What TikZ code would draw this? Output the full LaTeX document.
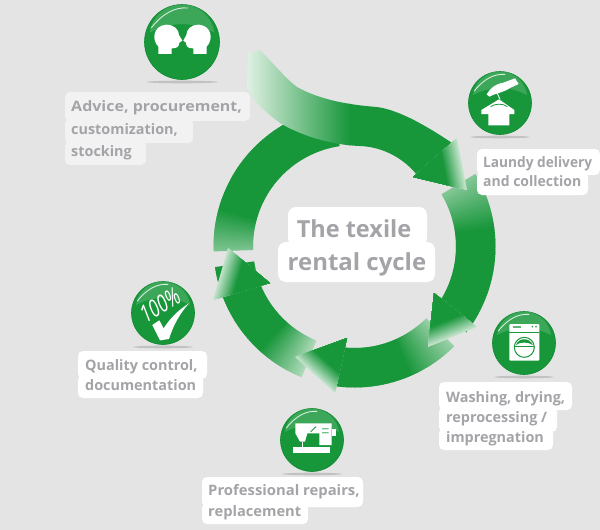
\documentclass[tikz,border=0pt]{standalone}
\usepackage{fontspec}
\setmainfont{Open Sans}
\definecolor{bgc}{HTML}{E5E4E5}
\definecolor{gd}{HTML}{17963A}
\definecolor{gl}{HTML}{DDEFE1}
\definecolor{txt}{HTML}{A4A4A8}
\definecolor{rim}{HTML}{0F8A30}
\newcommand{\ringseg}[4]{% a0 a1 a2 startpct (angles descending)
  \pgfmathtruncatemacro{\ringstop}{#3}%
  \foreach \a in {#1,...,\ringstop}{%
    \pgfmathsetmacro{\p}{min(100,#4+(100-#4)*(#1-\a)/(#1-#2))}%
    \fill[gd!\p!gl] ({354.5+101.5*cos(\a)},{246.5-101.5*sin(\a)}) -- ({354.5+141*cos(\a)},{246.5-141*sin(\a)})
      -- ({354.5+141*cos(\a-1.6)},{246.5-141*sin(\a-1.6)}) -- ({354.5+101.5*cos(\a-1.6)},{246.5-101.5*sin(\a-1.6)}) -- cycle;}%
}
% painter's gradient for a head: barb P, light edge A B
\newcommand{\headtri}[6]{%
  \foreach \i in {0,...,24}{%
    \pgfmathsetmacro{\t}{\i/24*0.36}%
    \pgfmathsetmacro{\p}{12+88*\i/24}%
    \fill[gd!\p!gl] ({#5+\t*(#1-#5)},{#6+\t*(#2-#6)}) -- ({#3+\t*(#1-#3)},{#4+\t*(#2-#4)}) -- (#1,#2) -- cycle;}%
}
\newcommand{\iconbase}[4]{% name cx cy r
  \fill[black!40,opacity=.45] (#2,#3+#4+2.5) ellipse[x radius=#4*0.95,y radius=1.3];
  \node[circle,minimum size=2*#4 pt,inner sep=0pt,fill=gd,draw=rim,line width=.6pt] (#1) at (#2,#3) {};
  \fill[white,opacity=.16] (#2-#4*0.86,#3-#4*0.25) .. controls (#2-#4*0.7,#3-#4*0.95-#4*0.3) and (#2+#4*0.7,#3-#4*0.95-#4*0.3) .. (#2+#4*0.86,#3-#4*0.25)
     .. controls (#2+#4*0.3,#3-#4*0.55) and (#2-#4*0.3,#3-#4*0.55) .. cycle;
  \draw[white,opacity=.8,line width=.9pt,line cap=round] ({#2+#4*0.9*cos(155)},{#3-#4*0.9*sin(155)}) .. controls ({#2+#4*0.8*cos(130)},{#3-#4*1.0*sin(130)}) and ({#2+#4*0.5*cos(110)},{#3-#4*1.0*sin(110)}) .. ({#2+#4*0.9*cos(80)},{#3-#4*0.92*sin(80)});
}
\tikzset{
  lblbox/.style={fill=white,rounded corners=5pt},
  lbl/.style={anchor=base west,inner sep=0pt,text=txt,font=\fontsize{14.4}{16}\selectfont\bfseries},
  ctr/.style={anchor=base,inner sep=0pt,text=txt,font=\fontsize{23.5}{26}\selectfont\bfseries},
  zoomed/.style={x=0.33333pt,y=-0.33333pt}
}
\begin{document}
\begin{tikzpicture}[x=1pt,y=-1pt]
\useasboundingbox (0,0) rectangle (600,530);
\fill[bgc] (0,0) rectangle (600,530);

% ring segments, clockwise
\ringseg{182}{165}{100}{50}
\ringseg{-112}{-132}{-170}{25}
\ringseg{-45}{-66}{-100}{35}
\ringseg{31}{8}{-36}{45}

% swoosh
\begin{scope}
\clip (260,50) .. controls (275,65) and (285,78) .. (297,87) .. controls (320,100) and (350,105) .. (377,107)
  .. controls (400,110) and (430,128) .. (455,145) -- (452,180) -- (417,175)
  .. controls (405,160) and (385,147) .. (360,146) .. controls (330,145) and (300,135) .. (280,123)
  .. controls (265,112) and (252,100) .. (247,87) -- (248,53) -- cycle;
\shade[left color=gl!80!white,right color=gd] (245,40) rectangle (350,200);
\fill[gd] (349,40) rectangle (480,200);
\end{scope}

% heads
\headtri{413}{177}{457}{138}{467}{190}
\headtri{434}{293}{477}{327}{428}{347}
\headtri{347}{338}{295}{357}{335}{393}
\headtri{270}{283}{213}{300}{228}{248}

% label boxes + text
\begin{scope}[transparency group,opacity=.55]
\fill[white,rounded corners=5pt] (65,92) rectangle (250,121);
\fill[white,rounded corners=5pt] (65,119) rectangle (193,143);
\fill[white,rounded corners=5pt] (65,141) rectangle (146,165);
\end{scope}
\node[lbl,xscale=1.11,anchor=base west] (t1a) at (71,111) {Advice, procurement,};
\node[lbl] (t1b) at (71,134) {customization,};
\node[lbl] (t1c) at (71,156) {stocking};

\fill[lblbox] (477,149) rectangle (600,175);
\fill[lblbox] (477,172) rectangle (588,195);
\node[lbl,xscale=.95] (t2a) at (483,167) {Laundy delivery};
\node[lbl,xscale=.97] (t2b) at (483,186) {and collection};

\fill[lblbox] (439,382) rectangle (572,410);
\fill[lblbox] (439,407) rectangle (557,432);
\fill[lblbox] (439,428) rectangle (553,450);
\node[lbl] (t3a) at (446,402) {Washing, drying,};
\node[lbl] (t3b) at (446,422) {reprocessing /};
\node[lbl] (t3c) at (446,442) {impregnation};

\fill[lblbox] (202,477) rectangle (363,507);
\fill[lblbox] (202,503) rectangle (308,524);
\node[lbl,xscale=1.03] (t4a) at (208,495) {Professional repairs,};
\node[lbl,xscale=1.02] (t4b) at (208,516) {replacement};

\fill[lblbox] (78,351) rectangle (207,379);
\fill[lblbox] (78,375) rectangle (203,398);
\node[lbl] (t5a) at (85,370) {Quality control,};
\node[lbl] (t5b) at (85,390) {documentation};

\fill[white,rounded corners=8pt] (288,207) rectangle (427,246);
\fill[white,rounded corners=8pt] (278,242) rectangle (435,282);
\node[ctr] (c1) at (354,237) {The texile};
\node[ctr,xscale=1.02] (c2) at (357,270) {rental cycle};

% icons
\iconbase{i1}{182}{42}{37.5}
\iconbase{i2}{500}{103}{31.5}
\iconbase{i3}{524}{343}{31.5}
\iconbase{i4}{312}{440}{31.5}
\iconbase{i5}{163}{313}{31.5}

% icon 1 glyph: two heads
\begin{scope}[shift={(130,0)},zoomed]
\fill[white] (85,162) -- (85,140) .. controls (65,120) and (68,78) .. (108,74)
  .. controls (135,74) and (146,90) .. (147,105) -- (157,122) -- (148,128) .. controls (148,140) and (140,146) .. (125,145) -- (125,162) -- cycle;
\fill[white] (230,162) -- (230,140) .. controls (250,120) and (247,78) .. (207,74)
  .. controls (180,74) and (170,90) .. (169,105) -- (160,122) -- (168,128) .. controls (168,140) and (175,146) .. (190,145) -- (190,162) -- cycle;
\end{scope}

% icon 2 glyph: hand, hanger, house
\begin{scope}[shift={(450,60)},zoomed]
\fill[white] (110,103) .. controls (120,85) and (135,72) .. (160,68) -- (195,55) -- (206,72) -- (180,84) .. controls (160,98) and (135,100) .. (118,110) -- cycle;
\draw[white,line width=.9pt] (142,100) -- (150,118);
\fill[white] (115,162) -- (94,162) -- (94,150) -- (147,118) -- (193,150) -- (193,162) -- (178,162) -- (178,196) -- (115,196) -- cycle;
\draw[gd,line width=.8pt] (122,140) .. controls (135,130) and (160,130) .. (172,140);
\end{scope}

% icon 3 glyph: washing machine
\begin{scope}[shift={(430,300)},zoomed]
\fill[white,rounded corners=1pt] (238,72) rectangle (328,182);
\draw[gd,line width=.6pt] (238,97) -- (328,97);
\fill[gd!70!white] (250,77) rectangle (272,85);
\fill[gd] (307,80) circle[radius=.9pt] (318,80) circle[radius=.9pt];
\draw[gd,line width=1pt,fill=white] (283,142) circle[radius=10pt];
\fill[gd] (258,135) .. controls (265,112) and (300,112) .. (308,135) .. controls (295,125) and (270,125) .. (258,135) -- cycle;
\draw[gd,line width=.5pt] (255,140) -- (311,140);
\end{scope}

% icon 4 glyph: sewing machine
\begin{scope}[shift={(190,400)},zoomed]
\fill[white] (316,70) -- (425,70) -- (425,135) -- (388,135) -- (388,100) -- (352,100) -- (345,125) -- (330,125) -- (316,100) -- cycle;
\fill[white] (426,86) rectangle (437,108);
\fill[white] (308,141) rectangle (420,158);
\draw[white,line width=.8pt] (336,125) -- (336,140);
\draw[gd,line width=.9pt] (362,95) -- (378,80);
\fill[gd!60!white] (396,84) rectangle (416,88) (396,96) rectangle (416,100);
\end{scope}

% icon 5 glyph: 100% and check
\begin{scope}[shift={(70,275)},zoomed]
\fill[white] (247,150) -- (268,136) -- (281,160) .. controls (300,130) and (325,105) .. (357,85)
  .. controls (330,115) and (310,150) .. (297,192) -- (270,196) -- cycle;
\node[inner sep=0pt,text=white,rotate=30,xscale=.72,font=\fontsize{24}{24}\selectfont\itshape] (pct) at (270,90) {100\%};
\end{scope}
\end{tikzpicture}
\end{document}
